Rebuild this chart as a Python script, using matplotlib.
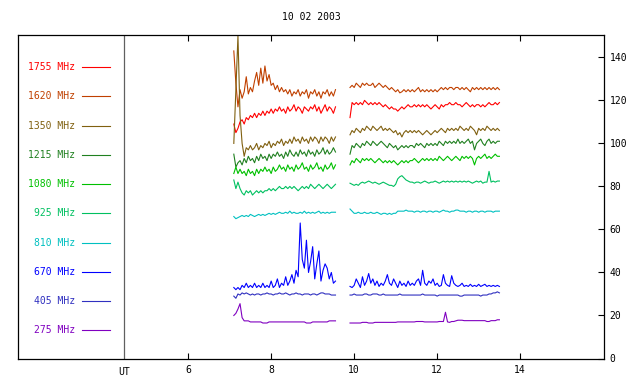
import matplotlib
matplotlib.use("Agg")
import matplotlib.pyplot as plt
import matplotlib.transforms as mtransforms
import numpy as np

plt.rcParams['font.family'] = ['DejaVu Sans Mono']
plt.rcParams['font.size'] = 7

title = "10 02 2003"

# two observing intervals (UT hours)
t_a = np.round(np.arange(7.10, 9.551, 0.05), 2)
t_b = np.round(np.arange(9.90, 13.501, 0.05), 2)

freqs = ["1755 MHz", "1620 MHz", "1350 MHz", "1215 MHz", "1080 MHz",
         "925 MHz", "810 MHz", "670 MHz", "405 MHz", "275 MHz"]
colors = ["#ff0000", "#c04000", "#806010", "#208020", "#00c000",
          "#00c060", "#00c0c0", "#0000ff", "#3030c0", "#8000c0"]

f1755_a = [109, 105, 107, 110, 111, 109, 112, 111, 113, 112,
           114, 112, 114, 113, 115, 113, 115, 114, 116, 114,
           116, 115, 117, 115, 116, 114, 117, 115, 116, 118,
           115, 117, 116, 114, 117, 116, 115, 117, 116, 118,
           115, 117, 114, 116, 118, 115, 117, 116, 114, 117]
f1755_b = [112, 119, 118, 119, 118, 119, 118, 120, 119, 118,
           119, 118, 119, 118, 119, 118, 117, 118, 117, 116,
           117, 116, 116, 115, 116, 117, 116, 117, 118, 117,
           117, 118, 117, 118, 117, 118, 117, 118, 117, 116,
           117, 118, 117, 116, 118, 117, 118, 118, 119, 118,
           118, 119, 118, 118, 117, 118, 119, 118, 117, 118,
           117, 118, 118, 117, 118, 117, 118, 119, 118, 118,
           119, 118, 119]

f1620_a = [143, 128, 117, 125, 121, 124, 131, 123, 126, 124,
           129, 133, 127, 135, 128, 136, 129, 132, 127, 128,
           125, 127, 124, 126, 124, 125, 123, 125, 122, 124,
           123, 125, 122, 124, 123, 125, 121, 124, 123, 125,
           122, 124, 121, 124, 123, 125, 122, 124, 122, 125]
f1620_b = [126, 127, 126, 128, 127, 126, 128, 127, 128, 127,
           127, 128, 126, 127, 128, 127, 126, 127, 126, 125,
           126, 125, 124, 125, 123.5, 124, 125, 124, 125, 124,
           125, 124, 125, 126, 124, 125, 124, 125, 124, 125,
           124, 125, 124, 125, 126, 125, 126, 125, 126, 126,
           125, 126, 126, 125, 126, 125, 126, 125, 124, 126,
           125, 126, 125, 126, 125, 126, 125, 126, 125, 126,
           125, 126, 125]

f1350_a = [100, 125, 150, 113, 100, 94, 98, 97, 99, 97,
           98, 100, 97, 99, 98, 100, 99, 101, 98, 100,
           99, 101, 100, 102, 99, 101, 100, 102, 100, 103,
           101, 102, 100, 103, 101, 102, 100, 103, 101, 103,
           102, 100, 103, 101, 103, 102, 100, 103, 101, 103]
f1350_b = [104, 106, 105, 107, 106, 105, 107, 106, 108, 107,
           106, 108, 107, 106, 107, 108, 106, 107, 106, 107,
           106, 105, 106, 104, 105, 103, 105, 106, 105, 106,
           105, 106, 105, 106, 105, 104, 105, 106, 105, 104,
           105, 106, 105, 106, 107, 106, 105, 107, 106, 107,
           106, 107, 106, 108, 107, 106, 107, 106, 108, 107,
           106, 104, 107, 106, 107, 106, 108, 107, 106, 107,
           106, 107, 106]

f1215_a = [95, 89, 91, 92, 90, 93, 91, 94, 92, 93,
           91, 94, 92, 95, 93, 94, 92, 95, 93, 95,
           94, 96, 94, 95, 93, 96, 94, 97, 95, 94,
           96, 94, 97, 95, 96, 94, 97, 95, 96, 94,
           97, 95, 96, 98, 95, 97, 95, 96, 98, 96]
f1215_b = [95, 99, 98, 100, 99, 98, 100, 99, 101, 100,
           99, 101, 100, 99, 100, 101, 100, 99, 98, 100,
           99, 98, 99, 97, 98, 99, 98, 99, 98, 99,
           99, 98, 100, 99, 100, 99, 98, 100, 99, 100,
           99, 100, 99, 101, 100, 99, 101, 100, 101, 100,
           101, 100, 102, 100, 101, 100, 101, 102, 100, 101,
           97, 100, 101, 102, 100, 99, 101, 102, 100, 101,
           100, 101, 101]

f1080_a = [86, 89, 86, 88, 86, 87, 85, 88, 86, 87,
           85, 88, 86, 88, 87, 89, 87, 88, 86, 89,
           87, 88, 90, 88, 89, 87, 90, 88, 89, 87,
           90, 88, 89, 91, 88, 89, 87, 90, 88, 89,
           91, 88, 89, 87, 90, 88, 89, 91, 88, 90]
f1080_b = [90, 92, 91, 93, 92, 91, 93, 92, 93, 92,
           93, 92, 91, 92, 93, 92, 91, 92, 91, 92,
           91, 92, 91, 90, 91, 92, 91, 92, 91, 92,
           92, 93, 92, 91, 92, 93, 92, 93, 92, 93,
           92, 93, 92, 94, 93, 92, 93, 94, 93, 92,
           93, 94, 93, 92, 94, 93, 94, 93, 94, 93,
           90, 93, 94, 93, 94, 95, 93, 94, 93, 94,
           95, 94, 94]

f925_a = [83, 79, 82, 79, 77, 76, 78, 77, 78, 76,
          77, 78, 77, 78, 77, 78, 78, 79, 78, 79,
          78, 79, 80, 79, 79, 80, 79, 80, 79, 80,
          79, 78, 79, 80, 79, 80, 79, 81, 80, 79,
          80, 81, 80, 79, 80, 81, 80, 79, 80, 81]
f925_b = [81.5, 81, 80.5, 81, 80.5, 81.5, 82, 81.5, 82, 82.5,
          82, 81.5, 82, 81.5, 81, 81.5, 82, 81.5, 81, 80.5,
          80.5, 80, 81, 83.5, 84.5, 85, 84, 83, 82.5, 82,
          82, 81.5, 82, 82, 81.5, 82, 82.5, 82, 81.5, 82,
          82, 82.5, 82, 81.5, 82, 82.5, 82, 82.5, 82, 82.5,
          82, 82.5, 82, 82.5, 82, 82.5, 82, 82.5, 82, 81.5,
          82, 82.5, 82, 82.5, 81.5, 82, 82, 87, 82, 82.5,
          82, 82.5, 82.5]

f810_a = [66, 65, 65.5, 66, 66.5, 66, 66.5, 66, 67, 66.5,
          66, 66.5, 67, 66.5, 67, 66.5, 67, 67.5, 67, 67.5,
          67, 67.5, 68, 67.5, 67.5, 68, 67.5, 68.5, 67.5, 68,
          67.5, 67.5, 68, 67.5, 68.5, 67.5, 68, 67.5, 68, 67.5,
          68, 68.5, 67.5, 68, 67.5, 68, 67.5, 68, 68, 68]
f810_b = [69.5, 68.5, 67.5, 67.5, 68, 67.5, 67.5, 68, 67.5, 67.5,
          68, 67.5, 67.5, 68, 67.5, 67, 67.5, 67.5, 67, 67.5,
          67, 67.5, 67.5, 68.5, 68.5, 68.5, 68.5, 69, 68.5, 68.5,
          68.5, 68, 68.5, 68.5, 68, 68.5, 68.5, 68, 68.5, 68.5,
          68, 68.5, 68.5, 68, 68.5, 69, 68.5, 68.5, 68, 68.5,
          68.5, 69, 69, 68.5, 68.5, 68.5, 68, 68.5, 68.5, 68,
          68.5, 68.5, 68, 68.5, 68.5, 68, 68.5, 68.5, 68.5, 68,
          68.5, 68.5, 68.5]

f670_a = [33, 32, 33, 32, 34, 33, 35, 33, 34, 33,
          35, 33, 34, 33, 35, 33, 34, 33, 36, 33,
          34, 37, 33, 35, 34, 38, 34, 36, 39, 35,
          41, 38, 63, 46, 42, 55, 40, 45, 52, 37,
          44, 50, 36, 41, 44, 42, 37, 40, 35, 36]
f670_b = [33.5, 33, 34, 37, 35, 33, 38, 34, 36, 39.5,
          35, 37, 34, 36, 33.5, 35, 34, 36, 39, 35,
          34, 37, 35, 33, 36, 34, 35, 33.5, 36, 34,
          35, 34, 36, 37, 34, 41, 35, 34, 36, 35,
          37, 34, 35, 33.5, 34, 39, 35, 34, 33.5, 38.5,
          35, 34, 33.5, 34, 35, 33.5, 34, 33.5, 34.5, 33.5,
          34, 33.5, 34.5, 33.5, 34, 34.5, 33.5, 34, 33.5, 34,
          33.5, 34, 33.5]

f405_a = [29, 28, 30, 29.5, 30.5, 30, 30.5, 30, 29.5, 30,
          29.5, 30, 30, 29.5, 30, 30, 30.5, 30, 30, 29.5,
          30, 30, 30.5, 30, 30, 30.5, 30, 29.5, 30, 30,
          30.5, 30, 30, 29.5, 30, 30, 30, 29.5, 30, 30,
          29.5, 30, 30.5, 30.5, 30, 30, 30, 29.5, 29.5, 29.5]
f405_b = [29.5, 29.5, 30, 29.5, 29.5, 29.5, 29.5, 30, 30, 29.5,
          29.5, 30, 30, 30, 29.5, 29.5, 30, 29.5, 29.5, 29.5,
          29.5, 29.5, 29.5, 29.5, 30, 29.5, 29.5, 29.5, 29.5, 29.5,
          29.5, 29.5, 29.5, 29.5, 29.5, 30, 29.5, 29.5, 29.5, 29.5,
          29.5, 29.5, 29, 29.5, 29.5, 29.5, 29.5, 29.5, 29.5, 29.5,
          29.5, 29.5, 29.5, 29, 29, 29.5, 29.5, 29.5, 29.5, 29.5,
          29.5, 29.5, 29.5, 29, 29.5, 29.5, 29.5, 30, 30, 30.5,
          30.5, 31, 30.5]

f275_a = [20, 21, 23, 25.5, 19, 17.5, 17.5, 17.5, 17, 17,
          17, 17, 17, 17, 16.5, 16.5, 16.5, 17, 17, 17,
          17, 17, 17, 17, 17, 17, 17, 17, 17, 17,
          17, 17, 17, 17, 17, 16.5, 16.5, 16.5, 17, 17,
          17, 17, 17, 17, 17, 17, 17.5, 17.5, 17.5, 17.5]
f275_b = [16.5, 16.5, 16.5, 16.5, 16.5, 16.5, 16.8, 16.8, 16.8, 16.5,
          16.5, 16.5, 16.8, 16.8, 16.8, 16.8, 16.8, 16.8, 16.8, 16.8,
          16.8, 16.8, 16.8, 17, 17, 17, 17, 17, 17, 17,
          17, 17, 17.2, 17.2, 17.2, 17.2, 17, 17, 17, 17,
          17, 17, 17, 17.2, 17.2, 17.2, 21.5, 17, 16.8, 17.2,
          17.2, 17.5, 17.8, 17.8, 17.8, 17.6, 17.6, 17.6, 17.6, 17.6,
          17.6, 17.6, 17.6, 17.6, 17.6, 17.6, 17.2, 17.2, 17.6, 17.6,
          17.6, 18, 18]

series_a = [f1755_a, f1620_a, f1350_a, f1215_a, f1080_a,
            f925_a, f810_a, f670_a, f405_a, f275_a]
series_b = [f1755_b, f1620_b, f1350_b, f1215_b, f1080_b,
            f925_b, f810_b, f670_b, f405_b, f275_b]

fig = plt.figure(figsize=(6.4, 3.84), dpi=100)
ax = fig.add_axes([18 / 640, 25.5 / 384, 586 / 640, 323.5 / 384])

ax.set_xlim(1.90, 16.02)
ax.set_ylim(0, 150.4)

ut_x = 4.46
ax.axvline(ut_x, color="#606060", lw=0.9)

# legend column on the left, inside the frame
blend = mtransforms.blended_transform_factory(ax.transAxes, ax.transData)
for i, (name, c) in enumerate(zip(freqs, colors)):
    ly = 135.4 - 13.58 * i
    ax.text(0.0973, ly, name, color=c, ha="right", va="center",
            transform=blend)
    ax.plot([0.109, 0.157], [ly, ly], color=c, lw=0.8, transform=blend)

for c, ya, yb in zip(colors, series_a, series_b):
    ax.plot(t_a, ya, color=c, lw=0.8)
    ax.plot(t_b, yb, color=c, lw=0.8)

ax.set_xticks([6, 8, 10, 12, 14])
ax.tick_params(axis="x", direction="in", top=True, bottom=True,
               length=4, width=0.8, pad=5)
ax.set_yticks(range(0, 141, 20))
ax.tick_params(axis="y", left=False, right=True, labelleft=False,
               labelright=True, direction="in", length=4, width=0.8, pad=4)
ax.text(ut_x, -6.5, "UT", ha="center", va="center",
        transform=ax.transData)

for s in ax.spines.values():
    s.set_linewidth(0.9)

fig.text(311 / 640, 1 - 17 / 384, title, ha="center", va="center")

fig.savefig("out.png", dpi=100)
